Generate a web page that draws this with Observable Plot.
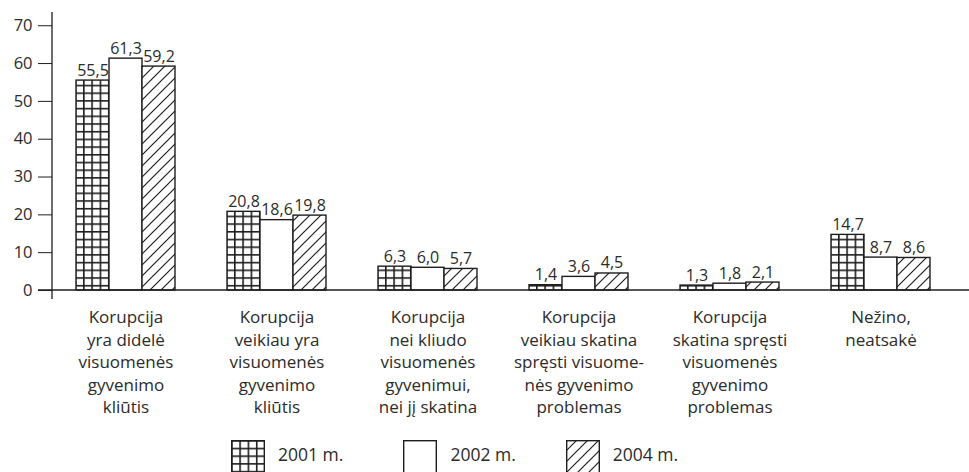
<!DOCTYPE html>
<html><head><meta charset="utf-8">
<script src="https://cdn.jsdelivr.net/npm/d3@7"></script>
<script src="https://cdn.jsdelivr.net/npm/@observablehq/plot@0.6"></script>
<style>
body{margin:0;background:#fff;font-family:"Open Sans",sans-serif;}
#legend{display:flex;align-items:flex-start;padding-left:231px;margin-top:4px;height:32px;overflow:hidden}
.item{display:flex;align-items:flex-start}
.item svg{display:block;overflow:visible}
.item span{font-size:17.5px;color:#2b2b2b;margin-left:13px;line-height:20px}
</style></head>
<body><div id="chart"></div><div id="legend"></div>
<script>
const categories = [
  "Korupcija\nyra didelė\nvisuomenės\ngyvenimo\nkliūtis",
  "Korupcija\nveikiau yra\nvisuomenės\ngyvenimo\nkliūtis",
  "Korupcija\nnei kliudo\nvisuomenės\ngyvenimui,\nnei jį skatina",
  "Korupcija\nveikiau skatina\nspręsti visuome-\nnės gyvenimo\nproblemas",
  "Korupcija\nskatina spręsti\nvisuomenės\ngyvenimo\nproblemas",
  "Nežino,\nneatsakė"
];
const years = ["2001 m.", "2002 m.", "2004 m."];
const values2001 = [55.5, 20.8, 6.3, 1.4, 1.3, 14.7];
const values2002 = [61.3, 18.6, 6.0, 3.6, 1.8, 8.7];
const values2004 = [59.2, 19.8, 5.7, 4.5, 2.1, 8.6];
const yTicks = [0, 10, 20, 30, 40, 50, 60, 70];
const yMax = 73.5;

const series = [values2001, values2002, values2004];
const data = categories.flatMap((c, i) => years.map((yr, j) => ({category: c, year: yr, value: series[j][i]})));
const fills = ["url(#p2001)", "#ffffff", "url(#p2004)"];
const fmt = v => v.toFixed(1).replace(".", ",");
const ink = "#1e1e1e";
const txt = "#2b2b2b";

const plot = Plot.plot({
  width: 969, height: 436,
  marginLeft: 50, marginRight: 13, marginTop: 12, marginBottom: 146,
  style: {fontFamily: "Open Sans", color: txt, background: "#fff", overflow: "visible"},
  fx: {domain: categories, padding: 0, label: null},
  x: {domain: years, paddingInner: 0, paddingOuter: 0.75, axis: null},
  y: {domain: [0, yMax], label: null},
  color: {domain: years, range: fills},
  marks: [
    Plot.barY(data, {fx: "category", x: "year", y: "value", fill: "year", stroke: ink, strokeWidth: 1.4, inset: 0}),
    Plot.text(data, {fx: "category", x: "year", y: "value", text: d => fmt(d.value), lineAnchor: "bottom", dy: -5, fontSize: 16, fill: txt}),
    Plot.axisY({ticks: yTicks, tickSize: 14, tickPadding: 6, dx: 2, fontSize: 16.5, stroke: ink, fill: txt, label: null}),
    Plot.axisFx({anchor: "bottom", tickSize: 0, tickPadding: 17, fontSize: 17, lineHeight: 1.32, fill: txt, label: null})
  ]
});

const svg = d3.select(plot);
const defs = svg.insert("defs", ":first-child");
const pg = defs.append("pattern").attr("id", "p2001").attr("patternUnits", "userSpaceOnUse")
  .attr("width", 8.3).attr("height", 7.7);
pg.append("rect").attr("width", 8.3).attr("height", 7.7).attr("fill", "#fff");
pg.append("line").attr("x1", 0.8).attr("x2", 0.8).attr("y1", 0).attr("y2", 7.7).attr("stroke", ink).attr("stroke-width", 1.6);
pg.append("line").attr("x1", 0).attr("x2", 8.3).attr("y1", 0.8).attr("y2", 0.8).attr("stroke", ink).attr("stroke-width", 1.6);
const ph = defs.append("pattern").attr("id", "p2004").attr("patternUnits", "userSpaceOnUse")
  .attr("width", 11).attr("height", 11);
ph.append("rect").attr("width", 11).attr("height", 11).attr("fill", "#fff");
ph.append("path").attr("d", "M-1,12 L12,-1 M-1,1 L1,-1 M10,12 L12,10").attr("stroke", ink).attr("stroke-width", 1.2);

const ys = plot.scale("y");
const y0 = ys.apply(0);
svg.append("line").attr("x1", 38).attr("x2", 969).attr("y1", y0).attr("y2", y0).attr("stroke", ink).attr("stroke-width", 1.3);
svg.append("line").attr("x1", 52).attr("x2", 52).attr("y1", ys.apply(yMax)).attr("y2", y0 + 9).attr("stroke", ink).attr("stroke-width", 1.3);

document.getElementById("chart").appendChild(plot);

const itemGaps = [60, 50, 0];
const legend = d3.select("#legend");
years.forEach((yr, j) => {
  const it = legend.append("div").attr("class", "item").style("margin-right", itemGaps[j] + "px");
  const s = it.append("svg").attr("width", 34).attr("height", 36);
  s.append("rect").attr("x", 0.7).attr("y", 0.7).attr("width", 32.6).attr("height", 35).attr("fill", fills[j]).attr("stroke", ink).attr("stroke-width", 1.4);
  it.append("span").text(yr).style("padding-top", "4px");
});
</script>
</body></html>
